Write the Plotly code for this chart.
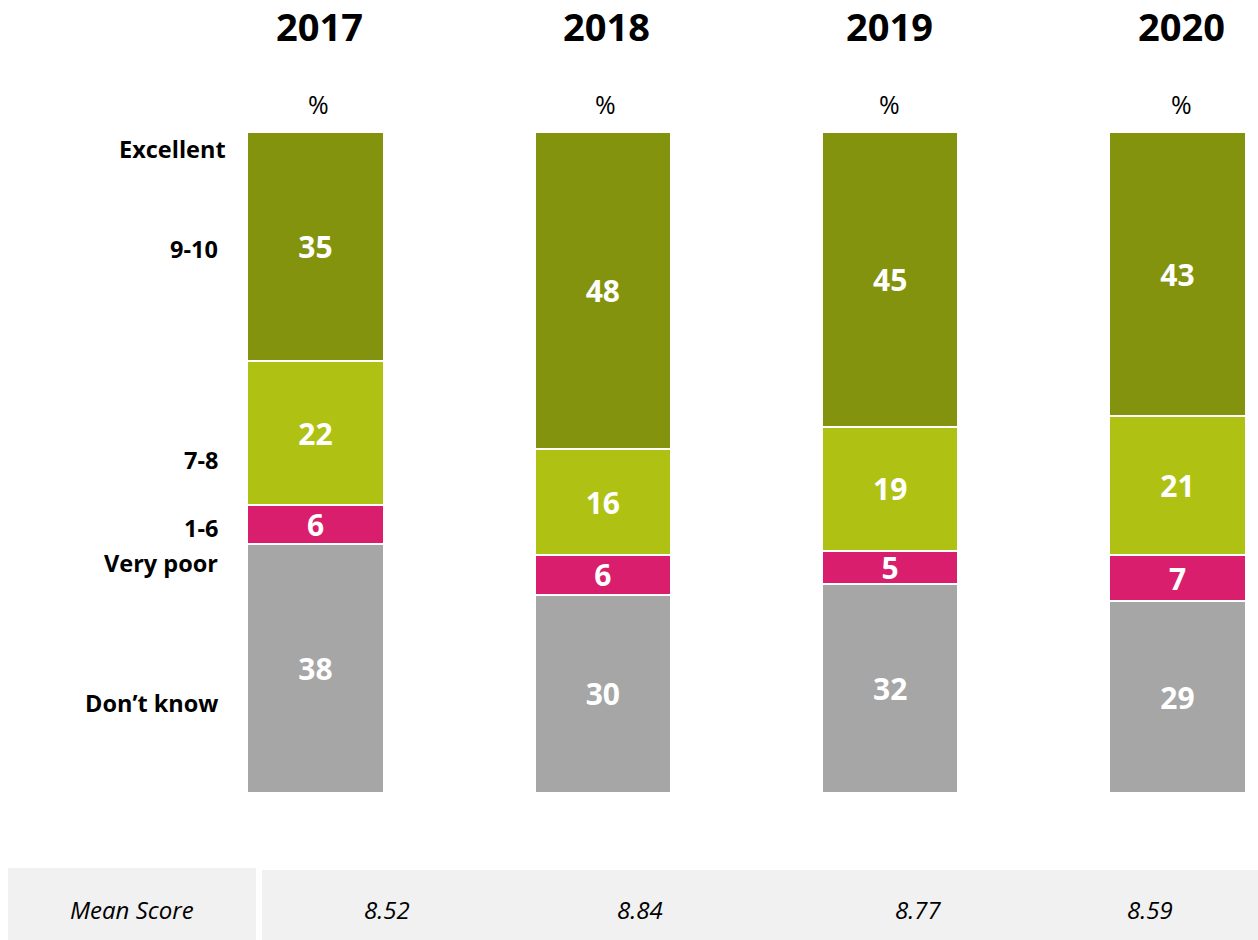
import plotly.graph_objects as go

# Survey waves and rating bands
years = ["2017", "2018", "2019", "2020"]
excellent_9_10 = [35, 48, 45, 43]
good_7_8 = [22, 16, 19, 21]
poor_1_6 = [6, 6, 5, 7]
dont_know = [38, 30, 32, 29]
mean_scores = ["8.52", "8.84", "8.77", "8.59"]

row_labels = ["Excellent", "9-10", "7-8", "1-6", "Very poor", "Don\u2019t know"]

W, H = 1258, 940
TOP, BOTTOM = 132, 793
FONT = "Open Sans, Noto Sans, Liberation Sans, sans-serif"


def px_x(p):
    return p / W


def px_y(p):
    return (BOTTOM - p) / (BOTTOM - TOP)


x_pos = list(range(len(years)))
series = [
    (dont_know, "#a6a6a6", "Don't know"),
    (poor_1_6, "#d81e6c", "1-6"),
    (good_7_8, "#afc213", "7-8"),
    (excellent_9_10, "#84930e", "9-10"),
]

fig = go.Figure()
for vals, color, name in series:
    fig.add_trace(go.Bar(
        x=x_pos, y=vals, name=name,
        marker=dict(color=color, line=dict(color="white", width=2)),
        width=0.475,
        text=[str(v) for v in vals],
        textposition="inside",
        insidetextanchor="middle",
        textangle=0,
        constraintext="none",
        textfont=dict(family=FONT, size=30, color="white", weight="bold"),
        hoverinfo="skip",
    ))


def label(text, xp, yp, size, anchor="center"):
    return dict(x=px_x(xp), y=px_y(yp), xref="paper", yref="paper",
                text=text, showarrow=False, xanchor=anchor, yanchor="middle",
                font=dict(family=FONT, size=size, color="black"))


annotations = []
# Year headers and percent markers
year_px = [319, 606, 889, 1181]
for yr, xp in zip(years, year_px):
    annotations.append(label(f"<b>{yr}</b>", xp, 26, 38))
for xp in [318, 605, 889, 1181]:
    annotations.append(label("%", xp, 104, 25))

# Scale labels on the left
row_y = [149, 249, 460, 528, 563, 703]
row_right = [228, 220, 220, 220, 220, 220]
for lab, yp, xr in zip(row_labels, row_y, row_right):
    annotations.append(label(f"<b>{lab}</b>", xr, yp, 23.5, anchor="right"))

# Mean score row
annotations.append(label("<i>Mean Score</i>", 132, 909, 24))
mean_px = [387, 640, 918, 1150]
for m, xp in zip(mean_scores, mean_px):
    annotations.append(label(f"<i>{m}</i>", xp, 909, 24))

shapes = [
    dict(type="rect", xref="paper", yref="paper", x0=px_x(8), x1=px_x(256),
         y0=px_y(868), y1=px_y(940), fillcolor="#f1f1f1", line=dict(width=0), layer="below"),
    dict(type="rect", xref="paper", yref="paper", x0=px_x(262), x1=px_x(1258),
         y0=px_y(870), y1=px_y(940), fillcolor="#f1f1f1", line=dict(width=0), layer="below"),
]

# Bar centres sit at ~315px and step ~287px across the canvas
step = 287.33
r0 = -315.5 / step
r1 = r0 + W / step

fig.update_layout(
    width=W, height=H,
    barmode="stack", barnorm="percent",
    margin=dict(l=0, r=0, t=TOP, b=H - BOTTOM),
    paper_bgcolor="white", plot_bgcolor="white",
    showlegend=False,
    xaxis=dict(range=[r0, r1], visible=False, fixedrange=True),
    yaxis=dict(range=[0, 100], visible=False, fixedrange=True),
    annotations=annotations,
    shapes=shapes,
)

fig.write_html("out.html")
